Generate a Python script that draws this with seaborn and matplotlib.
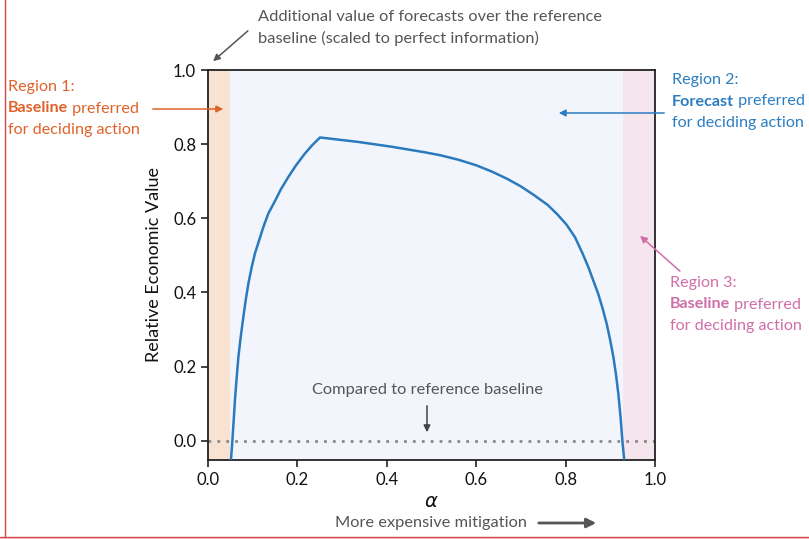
import matplotlib
matplotlib.use("Agg")
import matplotlib.pyplot as plt
import matplotlib.patches as mpatches
import seaborn as sns
import pandas as pd
from matplotlib.lines import Line2D

# Relative economic value of the forecast versus cost/loss ratio alpha
alpha = [0.0515, 0.0545, 0.0574, 0.0604, 0.0641, 0.0679, 0.0731, 0.0790, 0.0842,
         0.0902, 0.0977, 0.105, 0.124, 0.135, 0.150, 0.163, 0.180, 0.197, 0.217,
         0.233, 0.2506, 0.336, 0.411, 0.485, 0.520, 0.560, 0.600, 0.635, 0.670,
         0.700, 0.730, 0.760, 0.782, 0.802, 0.821, 0.838, 0.851, 0.862, 0.873,
         0.883, 0.892, 0.900, 0.907, 0.913, 0.918, 0.923, 0.927, 0.931]
value = [-0.050, 0.000, 0.054, 0.112, 0.169, 0.225, 0.279, 0.333, 0.378,
         0.423, 0.468, 0.505, 0.577, 0.613, 0.647, 0.678, 0.712, 0.743, 0.775,
         0.797, 0.818, 0.806, 0.793, 0.778, 0.770, 0.758, 0.743, 0.726, 0.706,
         0.686, 0.662, 0.636, 0.610, 0.583, 0.549, 0.505, 0.468, 0.432, 0.396,
         0.356, 0.315, 0.270, 0.225, 0.176, 0.126, 0.063, 0.000, -0.050]

# Region boundaries (alpha)
region1 = (0.0, 0.049)
region2 = (0.049, 0.929)
region3 = (0.929, 1.0)

xticks = [0.0, 0.2, 0.4, 0.6, 0.8, 1.0]
yticks = [0.0, 0.2, 0.4, 0.6, 0.8, 1.0]

df = pd.DataFrame({"alpha": alpha, "value": value})

sns.set_theme(style="ticks")
plt.rcParams["font.family"] = ["Lato", "DejaVu Sans"]

W, H = 809, 539
fig = plt.figure(figsize=(W / 100, H / 100), dpi=100)
ax = fig.add_axes([208 / W, 1 - 460 / H, (655 - 208) / W, (460 - 70) / H])


def px(x, y):
    """Pixel position (from top-left) to figure fraction."""
    return (x / W, 1 - y / H)


c_orange = "#E0622A"
c_blue = "#2A7DC2"
c_pink = "#D06EA8"
c_gray = "#555555"

ax.axvspan(*region1, color="#F8E3D3", lw=0, zorder=0)
ax.axvspan(*region2, color="#F2F6FC", lw=0, zorder=0)
ax.axvspan(*region3, color="#F5E6EE", lw=0, zorder=0)

ax.axhline(0, color="#8A8A8A", ls=(0, (1, 2.2)), lw=2, zorder=1)
sns.lineplot(data=df, x="alpha", y="value", ax=ax, color="#2A7ABD", lw=1.8,
             sort=False, zorder=3)

ax.set_xlim(0, 1)
ax.set_ylim(-0.052, 1.0)
ax.set_xticks(xticks)
ax.set_yticks(yticks)
ax.set_xticklabels([f"{t:.1f}" for t in xticks])
ax.set_yticklabels([f"{t:.1f}" for t in yticks])
ax.tick_params(labelsize=12, length=5, width=1.2, color="#222222", labelcolor="#111111")
for s in ax.spines.values():
    s.set_visible(True)
    s.set_color("#222222")
    s.set_linewidth(1.3)
ax.set_xlabel(r"$\alpha$", fontsize=14, labelpad=4, color="#111111")
ax.set_ylabel("Relative Economic Value", fontsize=13, labelpad=8, color="#111111")

fs = 11.8
fs_reg = 11.6
arrow_kw = dict(arrowstyle="-|>", mutation_scale=10, lw=1.1)


def fig_arrow(start, end, color, **kw):
    opts = dict(arrow_kw)
    opts.update(kw)
    fig.patches.append(mpatches.FancyArrowPatch(
        px(*start), px(*end), transform=fig.transFigure, color=color, **opts))


# Top note
fig.text(*px(258, 17), "Additional value of forecasts over the reference",
         fontsize=fs, color=c_gray, va="center", ha="left")
fig.text(*px(258, 38), "baseline (scaled to perfect information)",
         fontsize=fs, color=c_gray, va="center", ha="left")
fig_arrow((250, 29), (211, 63), c_gray)


def region_label(x, y0, title, bold, rest, color):
    fig.text(*px(x, y0), title, fontsize=fs_reg, color=color, va="center", ha="left")
    b = fig.text(*px(x, y0 + 21.5), bold, fontsize=fs_reg, color=color,
                 va="center", ha="left", fontweight="bold")
    ax.annotate(rest, xy=(1, 0.5), xycoords=b, va="center", ha="left",
                fontsize=fs_reg, color=color, annotation_clip=False)
    fig.text(*px(x, y0 + 43), "for deciding action", fontsize=fs_reg, color=color,
             va="center", ha="left")


region_label(8, 87, "Region 1:", "Baseline", " preferred", c_orange)
region_label(672, 80, "Region 2:", "Forecast", " preferred", c_blue)
region_label(670, 283, "Region 3:", "Baseline", " preferred", c_pink)

fig_arrow((150, 109), (226, 109), c_orange)
fig_arrow((667, 113), (556, 113), c_blue)
fig_arrow((682, 273), (638, 234), c_pink)

# Baseline note
fig.text(*px(427, 390), "Compared to reference baseline", fontsize=fs,
         color=c_gray, va="center", ha="center")
fig_arrow((427, 403), (427, 435), "#444444")

# Mitigation cost direction
fig.text(*px(335, 523), "More expensive mitigation", fontsize=fs,
         color=c_gray, va="center", ha="left")
fig_arrow((536, 523), (599, 523), "#555555", mutation_scale=14, lw=2)

# Frame lines along the left and bottom edges
fig.add_artist(Line2D([5 / W, 5 / W], [1 - 537 / H, 1.0], transform=fig.transFigure,
                      color="#D04545", lw=1))
fig.add_artist(Line2D([0, 1], [1 - 537 / H, 1 - 537 / H], transform=fig.transFigure,
                      color="#D04545", lw=1))
fig.patches.append(mpatches.Rectangle((0, 0), 1, 1.5 / H,
                   transform=fig.transFigure, color="#F6DADA", lw=0))

fig.savefig("out.png", dpi=100)
